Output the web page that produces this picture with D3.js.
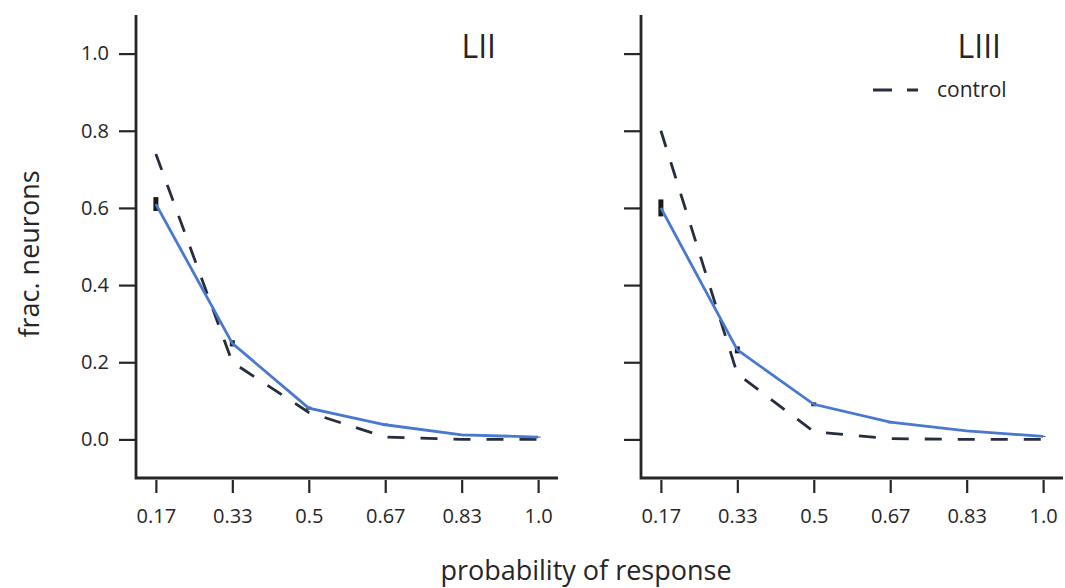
<!DOCTYPE html>
<meta charset="utf-8">
<script src="https://d3js.org/d3.v7.min.js"></script>
<style>
  body { margin: 0; background: #fff; }
  text { font-family: "Open Sans", "Noto Sans", sans-serif; fill: #262626; }
</style>
<svg id="chart" width="1065" height="588"></svg>
<script>

// probability of response categories
var probs = ["0.17", "0.33", "0.5", "0.67", "0.83", "1.0"]
var yTicks = [0.0, 0.2, 0.4, 0.6, 0.8, 1.0]

// LII
var liiMean = [0.61, 0.249, 0.081, 0.038, 0.012, 0.006]
var liiErr = [0.018, 0.008, 0.004, 0.003, 0.002, 0.001]
var liiControl = [0.74, 0.2, 0.07, 0.006, 0.0, 0.0]

// LIII
var liiiMean = [0.60, 0.232, 0.091, 0.045, 0.022, 0.008]
var liiiErr = [0.022, 0.009, 0.005, 0.003, 0.002, 0.001]
var liiiControl = [0.80, 0.17, 0.02, 0.002, 0.0, 0.0]

var panels = [
  {name: "LII", mean: liiMean, err: liiErr, control: liiControl, left: 136, right: 558, yLabels: true, legend: false},
  {name: "LIII", mean: liiiMean, err: liiiErr, control: liiiControl, left: 641, right: 1063, yLabels: false, legend: true}
]

var blue = "#4878d0"
var dark = "#262d3f"
var axisColor = "#262626"
var dash = "17,16"

var svg = d3.select("#chart")
var plotTop = 15, plotBottom = 478

var y = d3.scaleLinear().domain([-0.1, 1.1]).range([plotBottom, plotTop])

panels.forEach(function(p) {
  var x = d3.scalePoint().domain(probs).range([p.left, p.right]).padding(0.26)
  var g = svg.append("g")

  // y axis
  var yAxis = d3.axisLeft(y).tickValues(yTicks).tickSize(16).tickPadding(10)
    .tickFormat(p.yLabels ? d3.format(".1f") : "")
  var ya = g.append("g").attr("transform", "translate(" + (p.left - 1) + ",0)").call(yAxis)
  ya.attr("font-size", null).attr("font-family", null)
  ya.select(".domain").remove()
  ya.selectAll(".tick line").attr("stroke", axisColor).attr("stroke-width", 2.2)
  ya.selectAll(".tick text").style("font-size", "20px").attr("fill", "#262626")

  // x axis
  var xAxis = d3.axisBottom(x).tickSize(13).tickPadding(16)
  var xa = g.append("g").attr("transform", "translate(0," + (plotBottom + 2) + ")").call(xAxis)
  xa.attr("font-size", null).attr("font-family", null)
  xa.select(".domain").remove()
  xa.selectAll(".tick line").attr("stroke", axisColor).attr("stroke-width", 2.2)
  xa.selectAll(".tick text").style("font-size", "20px").attr("fill", "#262626")

  // spines
  g.append("path")
    .attr("d", "M" + p.left + "," + plotTop + "V" + plotBottom + "H" + p.right)
    .attr("fill", "none").attr("stroke", axisColor).attr("stroke-width", 2.8)

  var line = d3.line().x(function(d, i) { return x(probs[i]) }).y(function(d) { return y(d) })

  // control dashed
  g.append("path").datum(p.control)
    .attr("d", line)
    .attr("fill", "none").attr("stroke", dark).attr("stroke-width", 2.8)
    .attr("stroke-dasharray", dash)

  // error bars
  g.selectAll(".err").data(p.mean).enter().append("line")
    .attr("x1", function(d, i) { return x(probs[i]) })
    .attr("x2", function(d, i) { return x(probs[i]) })
    .attr("y1", function(d, i) { return y(d - p.err[i]) })
    .attr("y2", function(d, i) { return y(d + p.err[i]) })
    .attr("stroke", "#1a1a1a").attr("stroke-width", 5)

  // mean line
  g.append("path").datum(p.mean)
    .attr("d", line)
    .attr("fill", "none").attr("stroke", blue).attr("stroke-width", 2.8)

  // panel title
  g.append("text")
    .attr("x", p.right - 62).attr("y", 58)
    .attr("text-anchor", "end")
    .style("font-size", "32px")
    .text(p.name)

  if (p.legend) {
    g.append("line")
      .attr("x1", 873).attr("x2", 918).attr("y1", 90).attr("y2", 90)
      .attr("stroke", dark).attr("stroke-width", 2.8).attr("stroke-dasharray", "19,15")
    g.append("text")
      .attr("x", 937).attr("y", 97)
      .style("font-size", "21px")
      .text("control")
  }
})

// axis labels
svg.append("text")
  .attr("x", 586).attr("y", 580)
  .attr("text-anchor", "middle")
  .style("font-size", "27px")
  .text("probability of response")

svg.append("text")
  .attr("transform", "translate(39,254) rotate(-90)")
  .attr("text-anchor", "middle")
  .style("font-size", "27px")
  .text("frac. neurons")

</script>
